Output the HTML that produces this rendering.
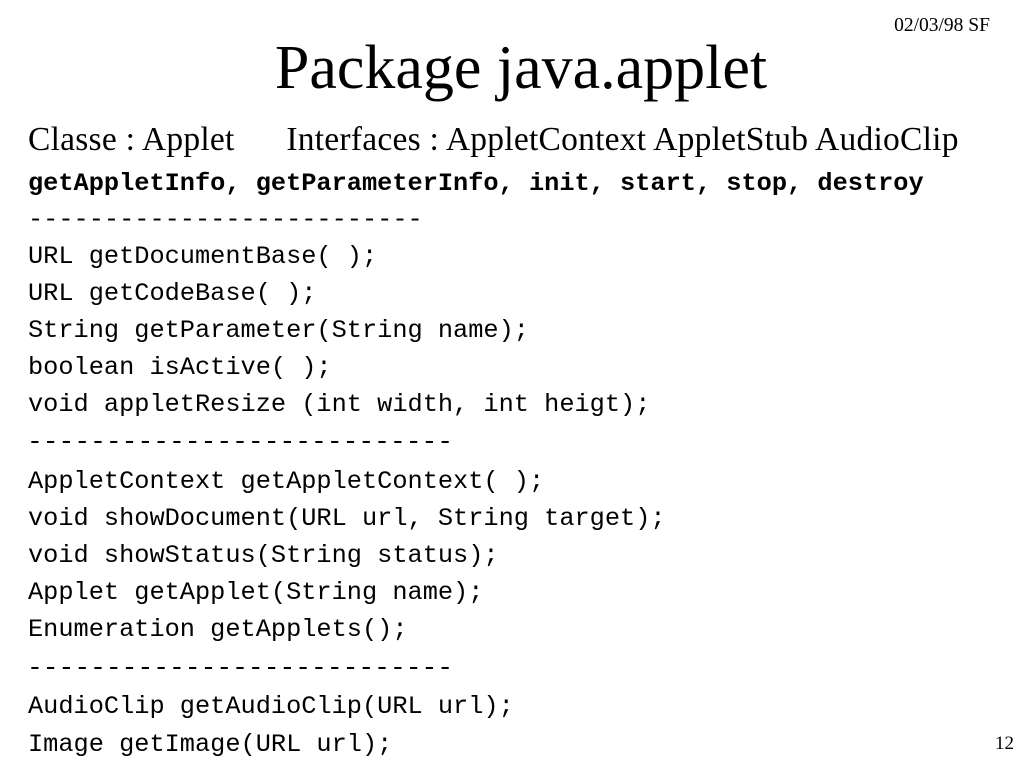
<!DOCTYPE html>
<html><head><meta charset="utf-8"><style>
body{margin:0;width:1024px;height:768px;background:#fff;position:relative;overflow:hidden;color:#000}
div{position:absolute;white-space:pre;line-height:1}
.m{font-family:"Liberation Mono",monospace;font-size:25.3px;left:28px}
.s{font-family:"Liberation Serif",serif}
</style></head><body>
<div class="s" style="right:34px;top:16px;font-size:19.5px">02/03/98 SF</div>
<div class="s" style="left:0;width:1042px;text-align:center;top:37px;font-size:62px">Package java.applet</div>
<div class="s" style="left:28px;top:123px;font-size:33.5px;letter-spacing:0.25px">Classe : Applet      Interfaces : AppletContext AppletStub AudioClip</div>
<div class="m" style="top:171px;font-weight:bold">getAppletInfo, getParameterInfo, init, start, stop, destroy</div>
<div class="m" style="top:207px">--------------------------</div>
<div class="m" style="top:244px">URL getDocumentBase( );</div>
<div class="m" style="top:281px">URL getCodeBase( );</div>
<div class="m" style="top:318px">String getParameter(String name);</div>
<div class="m" style="top:355px">boolean isActive( );</div>
<div class="m" style="top:392px">void appletResize (int width, int heigt);</div>
<div class="m" style="top:429px;font-size:26.3px;left:27px">---------------------------</div>
<div class="m" style="top:469px">AppletContext getAppletContext( );</div>
<div class="m" style="top:506px">void showDocument(URL url, String target);</div>
<div class="m" style="top:543px">void showStatus(String status);</div>
<div class="m" style="top:580px">Applet getApplet(String name);</div>
<div class="m" style="top:617px">Enumeration getApplets();</div>
<div class="m" style="top:655px;font-size:26.3px;left:27px">---------------------------</div>
<div class="m" style="top:694px">AudioClip getAudioClip(URL url);</div>
<div class="m" style="top:732px">Image getImage(URL url);</div>
<div class="s" style="right:10px;top:734px;font-size:19px">12</div>
</body></html>
